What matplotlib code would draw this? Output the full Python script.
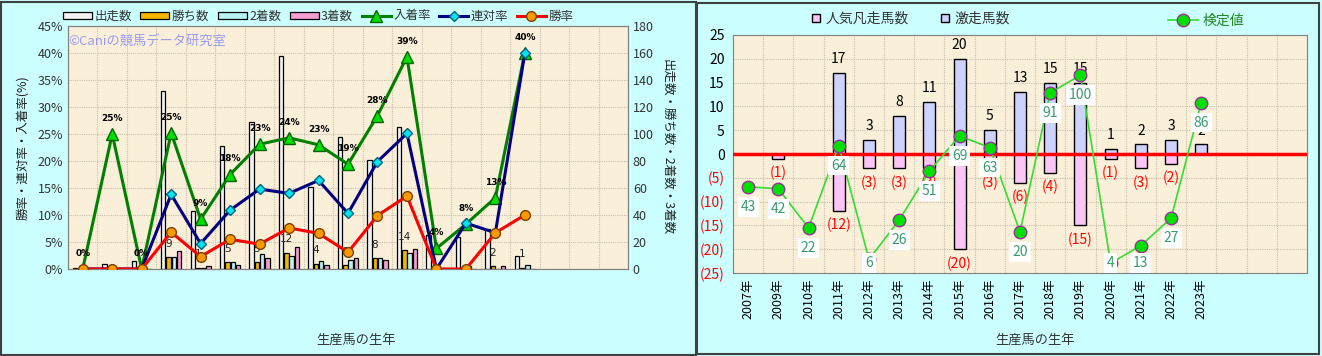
import numpy as np
import matplotlib
matplotlib.use("Agg")
import matplotlib.pyplot as plt
from matplotlib.patches import Rectangle
from matplotlib.lines import Line2D

plt.rcParams['font.family'] = ['Noto Sans CJK JP', 'DejaVu Sans']

years = ['2007年', '2009年', '2010年', '2011年', '2012年', '2013年', '2014年', '2015年',
         '2016年', '2017年', '2018年', '2019年', '2020年', '2021年', '2022年', '2023年']
n_slots = 19

# left chart: counts (right axis) and rates (left axis, %)
runs = [1, 4, 6, 132, 43, 91, 109, 158, 61, 98, 81, 105, 25, 24, 30, 10]
wins = [0, 0, 0, 9, 1, 5, 5, 12, 4, 3, 8, 14, 0, 0, 2, 1]
seconds = [0, 0, 0, 9, 1, 5, 11, 10, 6, 7, 8, 12, 0, 2, 0, 3]
thirds = [0, 1, 0, 13, 2, 3, 8, 16, 3, 8, 7, 15, 1, 0, 2, 0]
place_rate = [0, 25, 0, 25.2, 9.2, 17.5, 23.1, 24.3, 23, 19.4, 28.4, 39.3, 3.8, 8.3, 13.2, 40]
rentai_rate = [0, 0, 0, 13.8, 4.7, 10.9, 14.8, 14.0, 16.4, 10.3, 19.9, 25.1, 0, 8.5, 6.7, 40]
win_rate = [0, 0, 0, 6.8, 2.3, 5.5, 4.6, 7.6, 6.6, 3.1, 9.9, 13.5, 0, 0, 6.7, 10]
place_labels = ['0%', '25%', '0%', '25%', '9%', '18%', '23%', '24%', '23%', '19%',
                '28%', '39%', '4%', '8%', '13%', '40%']

# right chart
hot = [0, 0, 0, 17, 3, 8, 11, 20, 5, 13, 15, 15, 1, 2, 3, 2]
flop = [0, 1, 0, 12, 3, 3, 3, 20, 3, 6, 4, 15, 1, 3, 2, 0]
score = [43, 42, 22, 64, 6, 26, 51, 69, 63, 20, 91, 100, 4, 13, 27, 86]

W, H = 1322, 356
fig = plt.figure(figsize=(W / 100, H / 100), dpi=100)
fig.patch.set_facecolor('#CCFFFF')

bg = '#FAEFD9'
grid_c = '#C9BFAE'
x = np.arange(len(years))

# panel frames
fig.patches.append(Rectangle((1 / W, 1 / H), 695 / W, 353 / H, transform=fig.transFigure,
                             fill=False, edgecolor='#404040', lw=1.5))
fig.patches.append(Rectangle((697 / W, 2 / H), 622 / W, 351 / H, transform=fig.transFigure,
                             fill=False, edgecolor='#404040', lw=1.5))

# ---------------- left chart ----------------
ax = fig.add_axes([68 / W, 1 - 269 / H, 560 / W, 243 / H])
ax2 = ax.twinx()
ax2.set_zorder(1)
ax.set_zorder(2)
ax.patch.set_visible(False)
ax2.set_facecolor(bg)
ax2.patch.set_visible(True)

bw = 0.15
step = 0.178
bar_specs = [(runs, '#F2F2F2', '出走数'), (wins, '#F2B800', '勝ち数'),
             (seconds, '#B8F2F2', '2着数'), (thirds, '#F2A0D0', '3着数')]
bar_handles = []
for i, (vals, col, lab) in enumerate(bar_specs):
    b = ax2.bar(x + (i - 1.5) * step, vals, width=bw, color=col, edgecolor='black',
                lw=0.9, label=lab, zorder=3)
    bar_handles.append(b)
for xi, w in zip(x, wins):
    if w > 0:
        ax2.annotate(str(w), (xi - 0.5 * step, w), xytext=(0, 6), textcoords='offset points',
                     ha='center', va='bottom', fontsize=7.5, color='#222222',
                     family='DejaVu Sans', zorder=4)

ax2.set_ylim(0, 180)
ax2.set_yticks(range(0, 181, 20))
ax2.tick_params(axis='y', labelsize=9, colors='#333333', length=0)
ax2.set_ylabel('出走数・勝ち数・2着数・3着数', fontsize=9, rotation=270, labelpad=14,
               color='#222222')
ax2.set_xlim(-0.5, n_slots - 0.5)
for xv in np.arange(0.5, n_slots, 1):
    ax2.axvline(xv, color=grid_c, lw=0.8, ls=(0, (1, 1)), zorder=1)
for yv in range(20, 180, 20):
    ax2.axhline(yv, color=grid_c, lw=0.8, ls=(0, (1, 1)), zorder=1)

l1, = ax.plot(x, place_rate, color='#008000', lw=2.2, marker='^', ms=8,
              mfc='#00DD00', mec='#006600', label='入着率', zorder=5)
l2, = ax.plot(x, rentai_rate, color='#000080', lw=2.2, marker='D', ms=5.5,
              mfc='#00E5F0', mec='#006080', label='連対率', zorder=6)
l3, = ax.plot(x, win_rate, color='#FF0000', lw=2.2, marker='o', ms=7,
              mfc='#FF9900', mec='#7A4000', label='勝率', zorder=7)
for xi, v, t in zip(x, place_rate, place_labels):
    ax.annotate(t, (xi, v), xytext=(0, 8), textcoords='offset points', ha='center',
                va='bottom', fontsize=6.5, fontweight='bold', family='DejaVu Sans',
                color='black', zorder=8)

ax.set_ylim(0, 45)
ax.set_yticks(range(0, 46, 5))
ax.set_yticklabels([f'{v}%' for v in range(0, 46, 5)])
ax.tick_params(axis='y', labelsize=9, colors='#333333', length=0)
ax.set_ylabel('勝率・連対率・入着率(%)', fontsize=9, color='#222222', labelpad=6)
ax.set_xlim(-0.5, n_slots - 0.5)
ax.set_xticks(x)
ax.set_xticklabels(years, rotation=90, fontsize=9)
ax.tick_params(axis='x', length=0, pad=4)
ax2.set_xticks([])
for a in (ax, ax2):
    for s in a.spines.values():
        s.set_color('#808080')
ax.text(0.0, 0.935, '©Caniの競馬データ研究室', transform=ax.transAxes, fontsize=9.5,
        color='#9A9AF5', ha='left', va='center', zorder=9)
fig.text(356 / W, 1 - 340 / H, '生産馬の生年', fontsize=9.5, color='#333333',
         ha='center', va='center')

fig.legend(handles=bar_handles + [l1, l2, l3], loc='center',
           bbox_to_anchor=(318 / W, 1 - 16 / H), ncol=7, frameon=False, fontsize=9,
           handlelength=2.3, handleheight=0.5, columnspacing=0.7, handletextpad=0.2,
           labelcolor='#333333')

# ---------------- right chart ----------------
bx = fig.add_axes([733 / W, 1 - 273 / H, 574 / W, 238 / H])
bx.set_facecolor(bg)
bx.set_xlim(-0.5, n_slots - 0.5)
bx.set_ylim(-25, 25)
for xv in np.arange(0.5, n_slots, 1):
    bx.axvline(xv, color=grid_c, lw=0.8, ls=(0, (1, 1)), zorder=1)
for yv in range(-20, 25, 5):
    bx.axhline(yv, color=grid_c, lw=0.8, ls=(0, (1, 1)), zorder=1)

rw = 0.4
hb = bx.bar(x, hot, width=rw, color='#CDD2FF', edgecolor='black', lw=1.0,
            label='激走馬数', zorder=3)
fb = bx.bar(x, [-v for v in flop], width=rw, color='#FBC6F5', edgecolor='black', lw=1.0,
            label='人気凡走馬数', zorder=3)
bx.axhline(0, color='#FF0000', lw=2.5, zorder=4)
for xi, v in zip(x, hot):
    if v > 0:
        bx.annotate(str(v), (xi, v), xytext=(0, 5), textcoords='offset points',
                    ha='center', va='bottom', fontsize=10, color='black', zorder=5)
for xi, v in zip(x, flop):
    if v > 0:
        bx.annotate(f'({v})', (xi, -v), xytext=(0, -5), textcoords='offset points',
                    ha='center', va='top', fontsize=10, color='#FF0000', zorder=5)

yt = list(range(-25, 26, 5))
bx.set_yticks(yt)
bx.set_yticklabels([f'({-v})' if v < 0 else str(v) for v in yt])
for lab, v in zip(bx.get_yticklabels(), yt):
    lab.set_color('#FF0000' if v < 0 else 'black')
bx.tick_params(axis='y', labelsize=10, length=0, pad=6)
bx.set_xticks(x)
bx.set_xticklabels(years, rotation=90, fontsize=9)
bx.tick_params(axis='x', length=0, pad=4)
for s in bx.spines.values():
    s.set_color('#808080')

bx2 = bx.twinx()
bx2.set_ylim(-1, 120.5)
bx2.set_yticks([])
for s in bx2.spines.values():
    s.set_visible(False)
sl, = bx2.plot(x, score, color='#33DD33', lw=1.2, marker='o', ms=9, mfc='#00E000',
               mec='#993399', mew=1.0, label='検定値', zorder=6)
for xi, v in zip(x, score):
    ly = max(v - 10.2, 4.2)
    bx2.text(xi, ly, str(v), ha='center', va='center', fontsize=10, color='#3A9A70',
             bbox=dict(boxstyle='square,pad=0.2', fc='white', ec='none'), zorder=7)

fig.text(1035 / W, 1 - 340 / H, '生産馬の生年', fontsize=9.5, color='#333333',
         ha='center', va='center')

sq1 = Line2D([], [], ls='none', marker='s', ms=6, mfc='#FBC6F5', mec='black')
sq2 = Line2D([], [], ls='none', marker='s', ms=6, mfc='#CDD2FF', mec='black')
fig.legend(handles=[sq1, sq2], labels=['人気凡走馬数', '激走馬数'], loc='center left',
           bbox_to_anchor=(798 / W, 1 - 19 / H), ncol=2, frameon=False, fontsize=10,
           handlelength=0.8, handletextpad=0.3, columnspacing=2.2, labelcolor='#333333')
fig.legend(handles=[sl], labels=['検定値'], loc='center left',
           bbox_to_anchor=(1155 / W, 1 - 21 / H), frameon=False, fontsize=10,
           handlelength=2.2, handletextpad=0.3, labelcolor='#228822')

fig.savefig('out.png', dpi=100, facecolor=fig.get_facecolor())
